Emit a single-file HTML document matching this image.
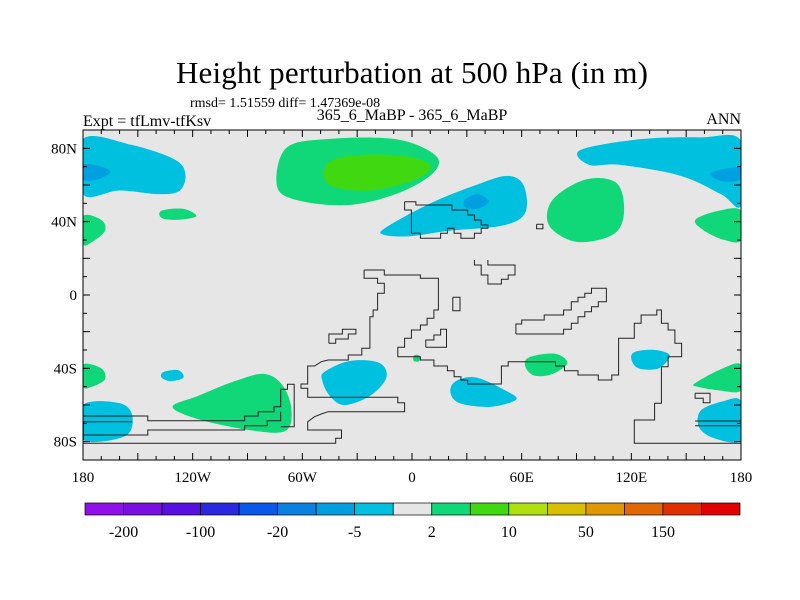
<!DOCTYPE html>
<html><head><meta charset="utf-8">
<style>
body{margin:0;background:#fff;}
svg{display:block;font-family:"Liberation Serif",serif;}
</style></head>
<body>
<svg id="chart" width="800" height="600" viewBox="0 0 800 600">
<rect width="800" height="600" fill="#fff"/>
<text x="412" y="83" font-size="31" text-anchor="middle" textLength="472">Height perturbation at 500 hPa (in m)</text>
<text x="190" y="107" font-size="14">rmsd= 1.51559 diff= 1.47369e-08</text>
<text x="83" y="126" font-size="16">Expt = tfLmv-tfKsv</text>
<text x="412" y="120" font-size="16" text-anchor="middle">365_6_MaBP - 365_6_MaBP</text>
<text x="741" y="124" font-size="16" text-anchor="end">ANN</text>
<g id="plot"></g>
<g id="cbar"></g>
</svg>
<script>
const lonTicks=[-180,-120,-60,0,60,120,180];
const lonLabels=["180","120W","60W","0","60E","120E","180"];
const latTicks=[80,40,0,-40,-80];
const latLabels=["80N","40N","0","40S","80S"];
const cbLabels=["-200","-100","-20","-5","2","10","50","150"];
const cbColors=["#9010e8","#7a10e0","#5810e0","#2c28e0","#0a58e8","#0a80e0","#00a0e0","#00c0e0","#e6e6e6","#10d878","#40d810","#b0e010","#d8c000","#e09800","#e06800","#e03000","#e00000"];
const blobCyanNW=[[-180,85],[-154,82],[-130,74],[-124,66],[-127,57],[-138,55],[-160,57],[-180,55]];
const blobBlueNW=[[-180,71],[-170,70],[-165,67],[-172,63],[-180,63]];
const blobGreenN=[[-69,80],[-47,85],[-9,85],[13,76],[11,66],[-9,55],[-36,49],[-64,52],[-74,60]];
const blobLGreenN=[[-47,71],[-33,76],[-6,76],[10,71],[2,63],[-23,57],[-45,60]];
const blobCyanMid=[[-14,37],[10,50],[35,60],[52,65],[61,60],[62,45],[50,38],[20,35],[-2,32],[-16,33]];
const blobBlueMid=[[29,52],[36,55],[42,51],[36,47],[29,48]];
const blobGreenE=[[77,52],[95,63],[112,61],[116,45],[110,33],[90,29],[75,38]];
const blobCyanNE=[[92,79],[125,85],[158,86],[180,84],[180,49],[169,55],[147,65],[114,71],[97,71]];
const blobBlueNE=[[163,66],[172,69],[180,69],[180,63],[170,62]];
const blobGreenSmall=[[-137,46],[-125,47],[-118,43],[-128,41],[-137,42]];
const blobGreenW=[[-180,43],[-170,41],[-168,35],[-175,29],[-180,28]];
const blobGreenE2=[[155,41],[168,46],[180,46],[180,30],[171,30],[160,35]];
const blobGreenSW=[[-180,-38],[-170,-40],[-168,-46],[-175,-50],[-180,-50]];
const blobCyanSmall=[[-136,-42],[-128,-41],[-125,-45],[-132,-47],[-137,-45]];
const blobGreenS=[[-117,-55],[-97,-47],[-81,-43],[-71,-49],[-66,-62],[-69,-74],[-87,-74],[-116,-68],[-131,-61]];
const blobCyanSW=[[-180,-60],[-160,-59],[-153,-66],[-157,-77],[-180,-79]];
const blobCyanS=[[-48,-42],[-34,-36],[-18,-37],[-14,-45],[-23,-55],[-37,-60],[-45,-55],[-49,-47]];
const blobGreenTiny=[[1,-33],[4,-33],[4,-36],[1,-36]];
const blobCyanS2=[[24,-47],[35,-45],[51,-52],[57,-57],[43,-61],[26,-59],[21,-53]];
const blobGreenS2=[[64,-34],[78,-32],[85,-37],[77,-43],[67,-44],[62,-39]];
const blobCyanSE=[[122,-31],[133,-30],[141,-33],[135,-40],[124,-40],[120,-35]];
const blobGreenSE=[[155,-48],[170,-40],[180,-38],[180,-52],[168,-52],[156,-50]];
const blobCyanSE2=[[158,-63],[170,-58],[180,-58],[180,-79],[165,-78],[157,-72]];
const blobs=[[7,blobCyanNW],[6,blobBlueNW],[9,blobGreenN],[10,blobLGreenN],[7,blobCyanMid],[6,blobBlueMid],[9,blobGreenE],[7,blobCyanNE],[6,blobBlueNE],[9,blobGreenSmall],[9,blobGreenW],[9,blobGreenE2],[9,blobGreenSW],[7,blobCyanSmall],[9,blobGreenS],[7,blobCyanSW],[7,blobCyanS],[9,blobGreenTiny],[7,blobCyanS2],[9,blobGreenS2],[7,blobCyanSE],[9,blobGreenSE],[7,blobCyanSE2]];
const coastsRaw=[
[90,"765,335 790,335 790,345 870,345 870,360 905,360 905,375 920,375 920,390 935,390 935,405 950,405 950,415 935,415 935,430 920,430 920,445 890,445 890,430 875,430 875,415 860,415 860,430 845,430 845,445 800,445 800,430 780,430 780,360 765,360 765,335"],
[90,"1058,403 1072,403 1072,416 1058,416 1058,403"],
[260,"920,0 920,15 935,15 935,45 950,45 950,72 980,72 980,58 995,58 995,45 1010,45 1010,15 950,15 950,0"],
[260,"872,112 888,112 888,152 872,152 872,112"],
[260,"597,250 612,250 612,237 640,237 640,222 657,222 657,208 627,208 627,222 597,222 597,250"],
[260,"812,262 858,262 858,208 845,208 845,225 830,225 830,240 812,240 812,262"],
[260,"1012,222 1118,222 1118,208 1135,208 1135,190 1150,190 1150,170 1165,170 1165,155 1180,155 1180,140 1195,140 1195,125 1213,125 1213,85 1180,85 1180,100 1165,100 1165,112 1150,112 1150,125 1135,125 1135,150 1118,150 1118,165 1075,165 1075,180 1025,180 1025,192 1012,192 1012,222"],
[260,"675,30 720,30 720,45 800,45 800,55 840,55 840,150 830,150 830,175 815,175 815,195 800,195 800,210 780,210 780,235 765,235 765,262 750,262 750,290 800,290 800,300 830,300 830,318 860,318 860,332 875,332 875,350 890,350 890,360 905,360 905,372 980,372 980,318 995,318 995,305 1100,305 1100,318 1120,318 1120,332 1150,332 1150,345 1195,345 1195,360 1225,360 1225,345 1240,345 1240,235 1275,235 1275,190 1290,190 1290,165 1325,165 1325,150 1335,150 1335,190 1350,190 1350,210 1365,210 1365,250 1380,250 1380,290 1350,290 1350,320 1335,320 1335,430 1320,430 1320,480 1275,480 1275,550 1525,550"],
[260,"675,30 675,55 705,55 705,70 720,70 720,100 705,100 705,150 695,150 695,170 688,170 688,265 670,265 670,285 640,285 640,300 595,300 580,305 565,318 550,318 550,372 535,372 535,385 550,385 550,412 750,412 750,428 765,428 765,455 595,455 580,462 565,470 550,485 550,510 625,510 625,535 612,535 612,550 52,550"],
[260,"52,468 195,468 195,482 410,482 410,468 440,468 440,455 475,455 475,440 490,440 490,388 505,388 505,373 520,373 520,500 490,500"],
[260,"52,525 195,525 195,510 410,510 410,497 460,497 460,482 490,482 490,455"],
[260,"52,485 160,485"],
[260,"52,540 52,485"],
[260,"1410,483 1525,483"],[260,"1410,497 1525,497"],
[260,"1410,400 1443,400 1443,428 1428,428 1428,415 1410,415 1410,400"]
];
const NS="http://www.w3.org/2000/svg";
const X0=83,X1=741,Y0=130,Y1=460;
function xs(lon){return X0+(lon+180)/360*(X1-X0);}
function ys(lat){return Y0+(90-lat)/180*(Y1-Y0);}
function mk(tag,attrs,parent){const e=document.createElementNS(NS,tag);for(const k in attrs)e.setAttribute(k,attrs[k]);parent.appendChild(e);return e;}
function smooth(pts){
  const p=pts.map(q=>[xs(q[0]),ys(q[1])]);const n=p.length;let d="M"+p[0][0]+","+p[0][1];
  for(let i=0;i<n;i++){const a=p[(i-1+n)%n],b=p[i],c=p[(i+1)%n],e=p[(i+2)%n];
    d+="C"+(b[0]+(c[0]-a[0])/6)+","+(b[1]+(c[1]-a[1])/6)+" "+(c[0]-(e[0]-b[0])/6)+","+(c[1]-(e[1]-b[1])/6)+" "+c[0]+","+c[1];}
  return d+"Z";}
const plot=document.getElementById('plot');
const defs=mk('defs',{},plot);
const cp=mk('clipPath',{id:'pc'},defs);mk('rect',{x:X0,y:Y0,width:X1-X0,height:Y1-Y0},cp);
const bg=mk('rect',{x:X0,y:Y0,width:X1-X0,height:Y1-Y0,fill:"#e6e6e6"},plot);


const fg=mk('g',{'clip-path':'url(#pc)'},plot);
blobs.forEach((b,i)=>{const el=mk('path',{d:smooth(b[1]),fill:cbColors[b[0]]},fg);

});
coastsRaw.forEach((c,i)=>{
  const pts=c[1].split(" ").map(s=>{const q=s.split(",").map(Number);return (60+q[0]/2.22).toFixed(1)+","+(c[0]+q[1]/3).toFixed(1);}).join(" ");
  const el=mk('polyline',{points:pts,fill:"none",stroke:"#222",'stroke-width':1},fg);
  
  });
const fr=mk('rect',{x:X0,y:Y0,width:X1-X0,height:Y1-Y0,fill:"none",stroke:"#000",'stroke-width':1},plot);


for(let lon=-180;lon<=180;lon+=10){const L=lon%30===0?7:4;
  mk('line',{x1:xs(lon),x2:xs(lon),y1:Y1,y2:Y1-L,stroke:"#000"},plot);
  mk('line',{x1:xs(lon),x2:xs(lon),y1:Y0,y2:Y0+L,stroke:"#000"},plot);}
for(let lat=-90;lat<=90;lat+=10){const L=lat%20===0?7:4;
  mk('line',{x1:X0,x2:X0+L,y1:ys(lat),y2:ys(lat),stroke:"#000"},plot);
  mk('line',{x1:X1,x2:X1-L,y1:ys(lat),y2:ys(lat),stroke:"#000"},plot);}
lonTicks.forEach((v,i)=>{const t=mk('text',{x:xs(v),y:Y1+22,'font-size':15,'text-anchor':'middle'},plot);t.textContent=lonLabels[i];

});
latTicks.forEach((v,i)=>{const t=mk('text',{x:X0-6,y:ys(v)+5,'font-size':15,'text-anchor':'end'},plot);t.textContent=latLabels[i];

});
const cb=document.getElementById('cbar');const CX=85,CW=655,CY=503,CH=12,bw=CW/cbColors.length;
cbColors.forEach((c,i)=>{const r=mk('rect',{x:CX+i*bw,y:CY,width:bw,height:CH,fill:c,stroke:"#000",'stroke-width':0.7},cb);

});
cbLabels.forEach((s,i)=>{const t=mk('text',{x:CX+(2*i+1)*bw,y:CY+34,'font-size':16,'text-anchor':'middle'},cb);t.textContent=s;

});
</script>
</body></html>
